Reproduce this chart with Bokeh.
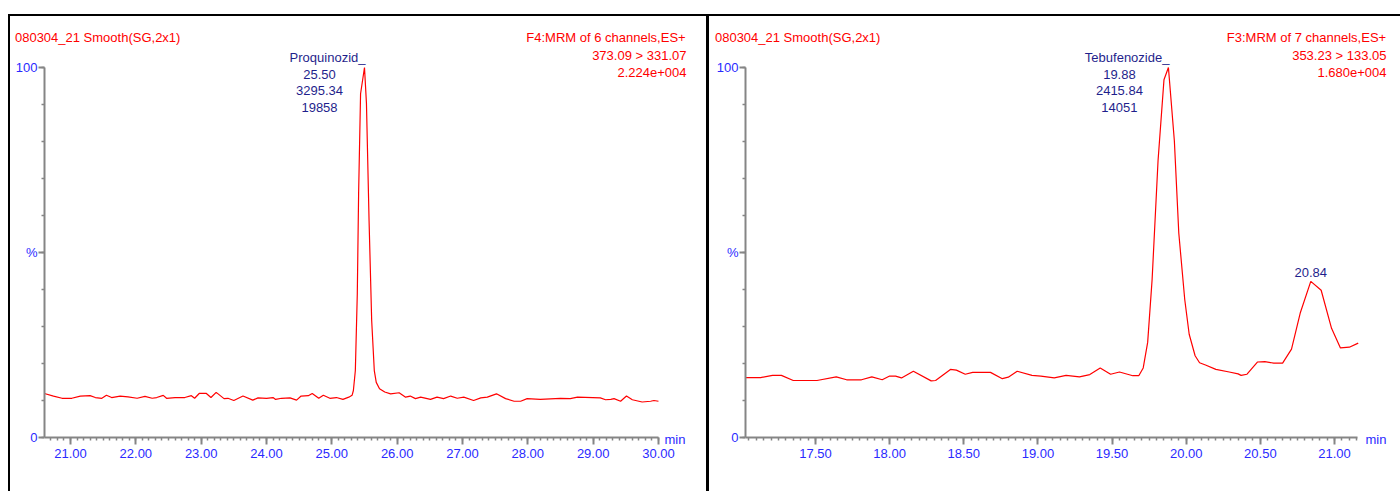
from bokeh.plotting import figure
from bokeh.models import Range1d, FixedTicker, NumeralTickFormatter, Label, LinearAxis
from bokeh.layouts import row
from bokeh.embed import file_html
from bokeh.resources import INLINE
import numpy as np

# ---------------- data ----------------
left_time = [20.60, 20.74, 20.87, 21.02, 21.15, 21.30, 21.38, 21.48, 21.55, 21.63, 21.76, 21.88,
             22.02, 22.14, 22.25, 22.32, 22.42, 22.47, 22.60, 22.75, 22.85, 22.90, 22.97, 23.08,
             23.15, 23.23, 23.35, 23.41, 23.50, 23.64, 23.79, 23.87, 24.00, 24.10, 24.14, 24.23,
             24.36, 24.46, 24.53, 24.64, 24.70, 24.80, 24.87, 24.97, 25.07, 25.17, 25.26, 25.31,
             25.33, 25.36, 25.39, 25.41, 25.44, 25.50, 25.53, 25.57, 25.61, 25.65, 25.68, 25.73,
             25.81, 25.90, 26.03, 26.13, 26.20, 26.28, 26.36, 26.51, 26.61, 26.71, 26.82, 26.92,
             27.02, 27.17, 27.28, 27.38, 27.52, 27.66, 27.79, 27.89, 27.99, 28.19, 28.50, 28.65,
             28.76, 29.11, 29.19, 29.27, 29.32, 29.42, 29.51, 29.60, 29.75, 29.88, 29.93, 30.00]
left_pct = [11.9, 11.2, 10.6, 10.6, 11.2, 11.3, 10.8, 10.6, 11.4, 10.8, 11.2, 11.0,
            10.6, 11.1, 10.6, 10.8, 11.4, 10.6, 10.8, 10.8, 11.3, 10.6, 11.9, 11.9,
            10.8, 12.2, 10.5, 10.6, 10.0, 11.2, 10.1, 10.7, 10.6, 10.8, 10.3, 10.6,
            10.7, 10.1, 11.2, 11.3, 11.9, 10.6, 11.4, 10.6, 10.8, 10.3, 10.9, 11.4,
            12.7, 18.1, 38.9, 65.9, 92.9, 100.0, 90.3, 58.6, 31.6, 18.1, 14.9, 13.2,
            12.3, 11.8, 12.1, 10.9, 11.2, 10.5, 10.9, 10.3, 10.9, 10.5, 11.2, 10.6,
            10.9, 10.0, 10.7, 10.9, 11.8, 10.5, 9.8, 9.8, 10.5, 10.3, 10.6, 10.5,
            10.9, 10.7, 10.2, 10.3, 10.5, 9.8, 11.2, 10.2, 9.6, 9.8, 10.0, 9.8]

right_time = [17.03, 17.13, 17.21, 17.27, 17.35, 17.51, 17.64, 17.71, 17.81, 17.88, 17.95, 18.00,
              18.04, 18.08, 18.16, 18.28, 18.31, 18.41, 18.45, 18.51, 18.56, 18.68, 18.76, 18.80,
              18.86, 18.96, 19.02, 19.11, 19.19, 19.28, 19.35, 19.42, 19.49, 19.55, 19.64, 19.68,
              19.71, 19.74, 19.77, 19.81, 19.85, 19.88, 19.92, 19.95, 19.99, 20.02, 20.06, 20.09,
              20.13, 20.20, 20.29, 20.35, 20.37, 20.41, 20.48, 20.53, 20.59, 20.65, 20.71, 20.77,
              20.84, 20.91, 20.98, 21.04, 21.10, 21.16]
right_pct = [16.2, 16.2, 16.8, 16.8, 15.4, 15.4, 16.4, 15.6, 15.6, 16.4, 15.6, 16.6,
             16.6, 16.1, 17.9, 15.3, 15.4, 18.4, 18.2, 17.1, 17.6, 17.6, 15.9, 16.3,
             17.9, 16.8, 16.6, 16.1, 16.8, 16.4, 17.0, 18.8, 17.1, 17.7, 16.7, 16.7,
             18.8, 25.7, 42.7, 74.8, 96.7, 100.0, 80.2, 55.2, 37.3, 27.9, 22.1, 20.2,
             19.6, 18.4, 17.7, 17.2, 16.8, 17.1, 20.4, 20.5, 20.1, 20.1, 23.9, 33.8,
             42.2, 39.8, 29.5, 24.2, 24.4, 25.5]

left_xticks = [21.0, 22.0, 23.0, 24.0, 25.0, 26.0, 27.0, 28.0, 29.0, 30.0]
right_xticks = [17.5, 18.0, 18.5, 19.0, 19.5, 20.0, 20.5, 21.0]
y_ticks = [0, 50, 100]
y_tick_labels = {0: "0", 50: "%", 100: "100"}

left_header = "080304_21  Smooth(SG,2x1)"
left_info = ["F4:MRM of 6 channels,ES+", "373.09 > 331.07", "2.224e+004"]
left_peak = ("Proquinozid_", ["25.50", "3295.34", "19858"], 25.50)

right_header = "080304_21  Smooth(SG,2x1)"
right_info = ["F3:MRM of 7 channels,ES+", "353.23 > 133.05", "1.680e+004"]
right_peak = ("Tebufenozide_", ["19.88", "2415.84", "14051"], 19.88)
right_peak2 = ("20.84", 20.84, 42.2)

# ---------------- style ----------------
FONT = "Liberation Sans"
RED = "#ff0000"
NAVY = "#1f1f8c"
BLUE = "#2a2aff"
GRAY = "#858585"
FS = "13px"
H = 477
Y_RANGE = (-7.027, 105.405)


def lab(p, x, y, text, dx, dy, color, align="left", units="data"):
    p.add_layout(Label(x=x, y=y, text=text, x_offset=dx, y_offset=dy,
                       x_units=units, y_units=units,
                       text_align=align, text_baseline="middle",
                       text_font=FONT, text_font_size=FS, text_color=color))


def panel(width, x0, x1, x_end, times, pct, xticks, minor_step, mb_left, margin, shadow,
          header, info0, head_px):
    p = figure(width=width, height=H, x_range=Range1d(x0, x_end), y_range=Range1d(*Y_RANGE),
               output_backend="svg", toolbar_location=None,
               min_border_left=mb_left, min_border_right=0,
               min_border_top=33, min_border_bottom=28, margin=margin)
    p.styles = {"box-shadow": shadow}
    p.border_fill_alpha = 0
    p.background_fill_alpha = 0
    p.outline_line_color = None
    p.grid.visible = False
    p.line(times, pct, line_color=RED, line_width=1.2)

    minor = list(np.round(np.arange(x0 - x0 % minor_step + minor_step, x1 + 1e-6, minor_step), 3))
    xa = p.xaxis[0]
    xa.ticker = FixedTicker(ticks=xticks, minor_ticks=minor)
    xa.formatter = NumeralTickFormatter(format="0.00")
    xa.bounds = (x0, x1)
    xa.fixed_location = 0
    ya = p.yaxis[0]
    ya.ticker = FixedTicker(ticks=y_ticks, minor_ticks=list(range(0, 101, 10)))
    ya.major_label_overrides = y_tick_labels
    ya.bounds = (0, 100)
    for ax in (xa, ya):
        ax.axis_line_color = GRAY
        ax.axis_line_width = 2
        ax.major_tick_line_color = GRAY
        ax.major_tick_line_width = 2
        ax.minor_tick_line_color = GRAY
        ax.minor_tick_line_width = 1.5
        ax.major_tick_in = 0
        ax.minor_tick_in = 0
        ax.major_label_text_font = FONT
        ax.major_label_text_font_size = FS
        ax.major_label_text_color = BLUE
    xa.major_tick_out = 7
    xa.minor_tick_out = 3
    xa.major_label_standoff = 4
    ya.major_tick_out = 6
    ya.minor_tick_out = 3
    ya.major_label_standoff = 1

    # header row (first line of both header blocks) as labels of an undecorated top axis
    ppm = (p.width - mb_left) / (x_end - x0)
    hx = [round(x0 + (c - mb_left) / ppm, 4) for c in head_px]
    top = LinearAxis(ticker=FixedTicker(ticks=hx, minor_ticks=[]),
                     major_label_overrides={hx[0]: header, hx[1]: info0},
                     axis_line_color=None, major_tick_line_color=None,
                     minor_tick_line_color=None, major_tick_out=0, minor_tick_out=0,
                     major_label_standoff=3, major_label_text_font=FONT,
                     major_label_text_font_size=FS, major_label_text_color=RED)
    p.add_layout(top, "above")
    return p


left = panel(698, 20.602, 30.0, 30.735, left_time, left_pct, left_xticks, 0.1, 36,
             (14, 0, 0, 8), "inset 2px 2px 0 0 black", left_header, left_info[0], (91, 597.5))
right = panel(694, 17.028, 21.155, 21.445, right_time, right_pct, right_xticks, 0.05, 39,
              (14, 0, 0, 0), "inset 3px 2px 0 0 black", right_header, right_info[0], (93, 600))

# left panel texts
for i, t in enumerate(left_info[1:]):
    lab(left, 30.0, 100, t, 28, 12 - 17 * i, RED, "right")
name, vals, px = left_peak
lab(left, px, 100, name, 1, 10, NAVY, "right")
for i, t in enumerate(vals):
    lab(left, px, 100, t, -45, -7 - 16.5 * i, NAVY, "center")
lab(left, 30.0, 0, "min", 6, -2, BLUE)

# right panel texts
for i, t in enumerate(right_info[1:]):
    lab(right, 21.155, 100, t, 29, 12 - 17 * i, RED, "right")
name, vals, px = right_peak
lab(right, px, 100, name, 1, 10, NAVY, "right")
for i, t in enumerate(vals):
    lab(right, px, 100, t, -49, -7 - 16.5 * i, NAVY, "center")
lab(right, right_peak2[1], right_peak2[2], right_peak2[0], 0, 9, NAVY, "center")
lab(right, 21.155, 0, "min", 8, -2, BLUE)

layout = row(left, right)
open("out.html", "w").write(file_html(layout, INLINE))
